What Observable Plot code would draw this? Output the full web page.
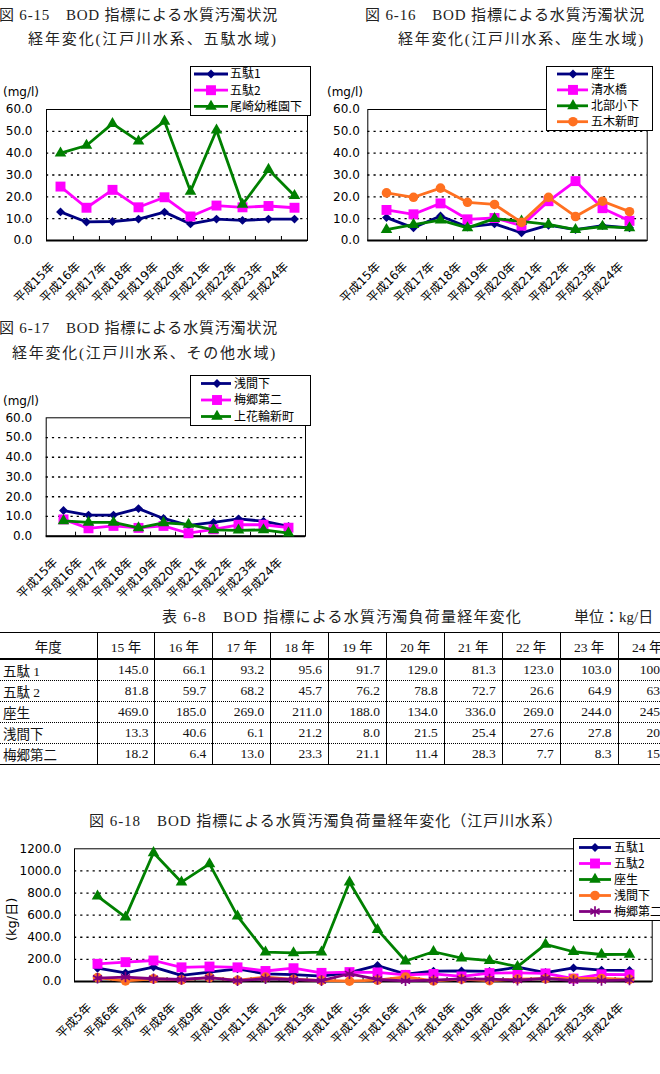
<!DOCTYPE html>
<html><head><meta charset="utf-8">
<script src="https://cdn.jsdelivr.net/npm/d3@7"></script>
<script src="https://cdn.jsdelivr.net/npm/@observablehq/plot@0.6"></script>
<style>
html,body{margin:0;padding:0;background:#fff;}
#page{position:relative;width:660px;height:1074px;overflow:hidden;background:#fff;}
.abs{position:absolute;white-space:nowrap;}
.title{font-family:"Liberation Serif","Noto Sans CJK JP",serif;font-size:15px;color:#222;line-height:20px;height:20px;}
.unit{font-family:"DejaVu Sans","Noto Sans CJK JP",sans-serif;font-size:12px;line-height:14px;color:#000;}
.legend{position:absolute;border:1.3px solid #000;background:#fff;box-sizing:border-box;z-index:5;}
.legend svg{position:absolute;left:0;top:0;overflow:visible;}
.plotwrap{position:absolute;}
table.t{position:absolute;left:0;top:632px;border-collapse:collapse;table-layout:fixed;width:676px;font-family:"Liberation Serif","Noto Sans CJK JP",serif;font-size:13.5px;color:#111;}
table.t td{padding:0;overflow:hidden;white-space:nowrap;border-left:1px solid #000;}
table.t td:first-child{border-left:none;padding-left:3px;}
table.t tr.h td{height:25px;text-align:center;border-top:1px solid #000;border-bottom:2px solid #000;}
table.t tr.h td:first-child{padding-left:0;}
table.t tr.r td{height:19px;border-bottom:1px dotted #000;text-align:right;padding-right:6px;}
table.t tr.r td:first-child{text-align:left;padding-right:0;}
table.t tr.r.last td{border-bottom:1px solid #000;}
</style>
</head><body>
<div id="page"></div>
<script>
// ---------------- data ----------------
const yearsA = ["平成15年","平成16年","平成17年","平成18年","平成19年","平成20年","平成21年","平成22年","平成23年","平成24年"];

// 図6-15 五駄水域 (mg/l)
const c1Names = ["五駄1","五駄2","尾崎幼稚園下"];
const c1Goda1 = [13.1, 8.5, 8.7, 9.8, 13.0, 7.6, 9.8, 9.2, 9.8, 9.8];
const c1Goda2 = [24.7, 15.0, 23.2, 15.2, 19.8, 11.0, 16.0, 15.2, 15.8, 15.0];
const c1Ozaki = [40.0, 43.5, 53.5, 45.5, 54.6, 22.5, 50.5, 16.5, 32.5, 20.5];

// 図6-16 座生水域 (mg/l)
const c2Names = ["座生","清水橋","北部小下","五木新町"];
const c2Zao = [10.5, 5.8, 11.2, 6.2, 7.6, 3.5, 7.0, 5.0, 6.8, 5.8];
const c2Shimizu = [14.0, 12.0, 17.0, 9.7, 10.3, 6.8, 18.0, 27.2, 14.8, 9.0];
const c2Hokubu = [5.0, 7.3, 9.3, 5.8, 10.0, 8.8, 7.4, 5.0, 6.4, 5.8];
const c2Itsuki = [21.8, 19.8, 24.0, 17.5, 16.5, 8.3, 19.8, 11.0, 18.0, 13.2];

// 図6-17 その他水域 (mg/l)
const c3Names = ["浅間下","梅郷第二","上花輪新町"];
const c3Sengen = [13.0, 10.7, 10.7, 14.0, 9.0, 5.5, 7.0, 8.8, 7.6, 5.0];
const c3Umesato = [8.5, 4.0, 5.2, 4.2, 5.2, 1.5, 3.5, 5.8, 5.8, 4.3];
const c3Kamihana = [7.8, 7.0, 7.0, 4.2, 6.8, 6.0, 3.2, 3.0, 3.2, 1.6];

// 表6-8 負荷量 (kg/日) 15年〜24年
const tblHeader = ["年度","15 年","16 年","17 年","18 年","19 年","20 年","21 年","22 年","23 年","24 年"];
const tblRowLabels = ["五駄 1","五駄 2","座生","浅間下","梅郷第二"];
const tGoda1 = [145.0, 66.1, 93.2, 95.6, 91.7, 129.0, 81.3, 123.0, 103.0, 100.0];
const tGoda2 = [81.8, 59.7, 68.2, 45.7, 76.2, 78.8, 72.7, 26.6, 64.9, 63.0];
const tZao = [469.0, 185.0, 269.0, 211.0, 188.0, 134.0, 336.0, 269.0, 244.0, 245.0];
const tSengen = [13.3, 40.6, 6.1, 21.2, 8.0, 21.5, 25.4, 27.6, 27.8, 20.0];
const tUmesato = [18.2, 6.4, 13.0, 23.3, 21.1, 11.4, 28.3, 7.7, 8.3, 15.0];

// 図6-18 負荷量 平成5年〜14年
const yearsB = ["平成5年","平成6年","平成7年","平成8年","平成9年","平成10年","平成11年","平成12年","平成13年","平成14年",
                "平成15年","平成16年","平成17年","平成18年","平成19年","平成20年","平成21年","平成22年","平成23年","平成24年"];
const c4Names = ["五駄1","五駄2","座生","浅間下","梅郷第二"];
const eGoda1 = [120, 78, 130, 55, 85, 115, 69, 62, 48, 80];
const eGoda2 = [160, 175, 190, 128, 135, 128, 95, 120, 78, 85];
const eZao = [772, 582, 1164, 898, 1064, 591, 265, 259, 265, 898];
const eSengen = [35, 5, 25, 15, 35, 10, 40, 20, 10, 3];
const eUmesato = [30, 40, 25, 18, 35, 8, 25, 18, 8, 70];

// ---------------- styles ----------------
const NAVY="#000080", MAG="#ff00ff", GRN="#008000", ORG="#ff7020", PUR="#800080";
const SYM = {diamond2:{r:4, d3:d3.symbolDiamond2}, square:{r:5.6, d3:d3.symbolSquare}, triangle:{r:4.3, d3:d3.symbolTriangle}, circle:{r:4.8, d3:d3.symbolCircle}, asterisk:{r:5, d3:d3.symbolAsterisk}};
const FONT = '"DejaVu Sans","Noto Sans CJK JP",sans-serif';
const page = document.getElementById("page");

function addText(cls, txt, left, cy, target, extra){
  const el = document.createElement("div");
  el.className = "abs " + cls;
  el.textContent = txt;
  el.style.left = left + "px";
  el.style.top = (cy - 10) + "px";
  if (extra) Object.assign(el.style, extra);
  page.appendChild(el);
  if (target){
    const w = el.getBoundingClientRect().width;
    const n = [...txt].length;
    el.style.letterSpacing = ((target - w) / n) + "px";
  }
  return el;
}

function chart(o){
  const {cats, names, values, colors, symbols, yMax, yStep, frame, svg, tickPad} = o;
  const rows = [];
  names.forEach((n,i)=> values[i].forEach((v,j)=> rows.push({series:n, cat:cats[j], v})));
  const plotW = frame.r - frame.l, plotH = frame.b - frame.t;
  const step = plotW / cats.length;
  const yTicks = d3.range(0, yMax + yStep/2, yStep);
  const marks = [
    Plot.gridY(yTicks.slice(1, -1), {stroke:"#000", strokeOpacity:1, strokeWidth:1.3, strokeDasharray:"2.2,4"}),
    Plot.frame({stroke:"#000", strokeWidth:1}),
    Plot.ruleY([0], {stroke:"#000", strokeWidth:2}),
    Plot.tickX(cats.slice(1), {x:d=>d, dx:-step/2, stroke:"#000", insetTop: plotH-4}),
    Plot.axisY(yTicks, {tickSize:0, tickPadding:tickPad, tickFormat:d=>d.toFixed(1), fontSize:12, label:null}),
    Plot.axisX(cats, {tickSize:0, tickRotate:-45, tickPadding:24, dx:-8, fontSize:12, label:null})
  ];
  names.forEach((n,i)=>{
    const data = rows.filter(r=>r.series===n);
    const s = symbols[i];
    marks.push(Plot.line(data, {x:"cat", y:"v", stroke:colors[i], strokeWidth:2.8}));
    marks.push(Plot.dot(data, {x:"cat", y:"v", symbol:s, r:SYM[s].r,
      fill: s==="asterisk" ? "none" : colors[i], stroke: s==="asterisk" ? colors[i] : "none", strokeWidth:1.7}));
  });
  const p = Plot.plot({
    width: svg.w, height: svg.h,
    marginLeft: frame.l - svg.x, marginRight: svg.x + svg.w - frame.r,
    marginTop: frame.t - svg.y, marginBottom: svg.y + svg.h - frame.b,
    x: {type:"point", domain:cats, padding:0.5, align:0.5, label:null},
    y: {domain:[0,yMax], label:null},
    style: {fontFamily:FONT, fontSize:"12px", color:"#000", background:"none", overflow:"visible"},
    marks
  });
  const wrap = document.createElement("div");
  wrap.className = "plotwrap";
  wrap.style.left = svg.x + "px"; wrap.style.top = svg.y + "px";
  wrap.appendChild(p);
  page.appendChild(wrap);
}

function legend(o){
  const {x, y, w, h, names, colors, symbols, first, gap, lx1, lx2, mx, tx} = o;
  const box = document.createElement("div");
  box.className = "legend";
  Object.assign(box.style, {left:x+"px", top:y+"px", width:w+"px", height:h+"px"});
  const ns = "http://www.w3.org/2000/svg";
  const s = document.createElementNS(ns, "svg");
  s.setAttribute("width", w); s.setAttribute("height", h);
  names.forEach((n,i)=>{
    const cy = first + i*gap;
    const ln = document.createElementNS(ns, "line");
    ln.setAttribute("x1", lx1); ln.setAttribute("x2", lx2); ln.setAttribute("y1", cy); ln.setAttribute("y2", cy);
    ln.setAttribute("stroke", colors[i]); ln.setAttribute("stroke-width", 2.8);
    s.appendChild(ln);
    const sym = SYM[symbols[i]];
    const pth = document.createElementNS(ns, "path");
    pth.setAttribute("d", d3.symbol(sym.d3, Math.PI*sym.r*sym.r)());
    pth.setAttribute("transform", `translate(${mx},${cy})`);
    if (symbols[i]==="asterisk"){ pth.setAttribute("fill","none"); pth.setAttribute("stroke",colors[i]); pth.setAttribute("stroke-width",1.7); }
    else pth.setAttribute("fill", colors[i]);
    s.appendChild(pth);
    const t = document.createElementNS(ns, "text");
    t.setAttribute("x", tx); t.setAttribute("y", cy); t.setAttribute("dy", "0.36em");
    t.setAttribute("font-family", '"Noto Sans CJK JP",sans-serif'); t.setAttribute("font-size", 12);
    t.textContent = n;
    s.appendChild(t);
  });
  box.appendChild(s);
  page.appendChild(box);
}

// ---------------- chart 1 ----------------
addText("title", "図 6-15　BOD 指標による水質汚濁状況", -1, 15, 279);
addText("title", "経年変化(江戸川水系、五駄水域)", 28, 39, 250);
addText("unit", "(mg/l)", 3, 95);
chart({cats:yearsA, names:c1Names, values:[c1Goda1,c1Goda2,c1Ozaki], colors:[NAVY,MAG,GRN], symbols:["diamond2","square","triangle"],
  yMax:60, yStep:10, frame:{l:46,t:109,r:307,b:240}, svg:{x:0,y:100,w:330,h:200}, tickPad:14});
legend({x:190,y:66,w:121,h:50,names:c1Names,colors:[NAVY,MAG,GRN],symbols:["diamond2","square","triangle"],first:7,gap:16.2,lx1:3,lx2:37,mx:20,tx:39});

// ---------------- chart 2 ----------------
addText("title", "図 6-16　BOD 指標による水質汚濁状況", 365, 15, 280);
addText("title", "経年変化(江戸川水系、座生水域)", 398, 39, 247);
addText("unit", "(mg/l)", 327, 95);
chart({cats:yearsA, names:c2Names, values:[c2Zao,c2Shimizu,c2Hokubu,c2Itsuki], colors:[NAVY,MAG,GRN,ORG], symbols:["diamond2","square","triangle","circle"],
  yMax:60, yStep:10, frame:{l:367.3,t:109,r:646.7,b:240}, svg:{x:330,y:100,w:330,h:200}, tickPad:8});
legend({x:546,y:66,w:107,h:65,names:c2Names,colors:[NAVY,MAG,GRN,ORG],symbols:["diamond2","square","triangle","circle"],first:7,gap:15.9,lx1:10,lx2:41,mx:26,tx:44});

// ---------------- chart 3 ----------------
addText("title", "図 6-17　BOD 指標による水質汚濁状況", -1, 328, 279);
addText("title", "経年変化(江戸川水系、その他水域)", 12, 353, 265);
addText("unit", "(mg/l)", 3, 404);
chart({cats:yearsA, names:c3Names, values:[c3Sengen,c3Umesato,c3Kamihana], colors:[NAVY,MAG,GRN], symbols:["diamond2","square","triangle"],
  yMax:60, yStep:10, frame:{l:45.7,t:417.3,r:305,b:535.7}, svg:{x:0,y:408,w:330,h:190}, tickPad:14});
legend({x:190,y:375,w:121,h:51,names:c3Names,colors:[NAVY,MAG,GRN],symbols:["diamond2","square","triangle"],first:7.5,gap:16.5,lx1:10,lx2:40,mx:26,tx:43});

// ---------------- table ----------------
addText("title", "表 6-8　BOD 指標による水質汚濁負荷量経年変化", 162, 617, 360);
addText("title", "単位：kg/日", 574, 617);
const tbl = document.createElement("table");
tbl.className = "t";
const cg = document.createElement("colgroup");
[97].concat(Array(10).fill(57.9)).forEach(w=>{ const c=document.createElement("col"); c.style.width=w+"px"; cg.appendChild(c); });
tbl.appendChild(cg);
const hr = document.createElement("tr"); hr.className = "h";
tblHeader.forEach(h=>{ const td=document.createElement("td"); td.textContent=h; hr.appendChild(td); });
tbl.appendChild(hr);
const tblValues = [tGoda1, tGoda2, tZao, tSengen, tUmesato];
tblRowLabels.forEach((lab,i)=>{
  const tr = document.createElement("tr"); tr.className = "r" + (i===tblRowLabels.length-1 ? " last" : "");
  const td0 = document.createElement("td"); td0.textContent = lab; tr.appendChild(td0);
  tblValues[i].forEach(v=>{ const td=document.createElement("td"); td.textContent=v.toFixed(1); tr.appendChild(td); });
  tbl.appendChild(tr);
});
page.appendChild(tbl);

// ---------------- chart 4 ----------------
addText("title", "図 6-18　BOD 指標による水質汚濁負荷量経年変化（江戸川水系）", 89, 821, 474);
addText("unit", "(kg/日)", -11, 923, null, {transform:"rotate(-90deg)", transformOrigin:"22px 6px", fontSize:"13px"});
const c4Values = [eGoda1.concat(tGoda1), eGoda2.concat(tGoda2), eZao.concat(tZao), eSengen.concat(tSengen), eUmesato.concat(tUmesato)];
chart({cats:yearsB, names:c4Names, values:c4Values, colors:[NAVY,MAG,GRN,ORG,PUR], symbols:["diamond2","square","triangle","circle","asterisk"],
  yMax:1200, yStep:200, frame:{l:74,t:848.3,r:651.7,b:981}, svg:{x:0,y:840,w:660,h:234}, tickPad:13});
legend({x:572.7,y:838.3,w:100,h:82.4,names:c4Names,colors:[NAVY,MAG,GRN,ORG,PUR],symbols:["diamond2","square","triangle","circle","asterisk"],first:8.5,gap:16,lx1:5,lx2:37,mx:21,tx:40});
</script>
</body></html>
